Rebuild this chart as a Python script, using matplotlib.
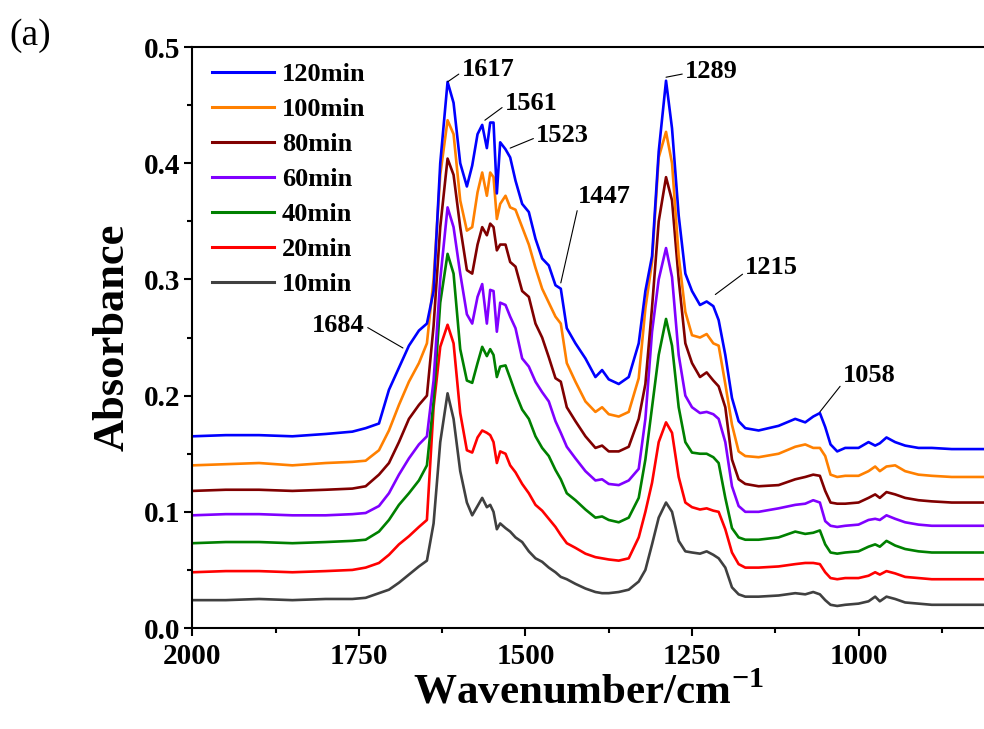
import numpy as np
import matplotlib
matplotlib.use("Agg")
import matplotlib.pyplot as plt
from matplotlib.ticker import MultipleLocator

plt.rcParams['font.family'] = ['Liberation Serif', 'DejaVu Serif']
plt.rcParams['mathtext.fontset'] = 'custom'
plt.rcParams['mathtext.rm'] = 'Liberation Serif'
plt.rcParams['mathtext.bf'] = 'Liberation Serif:bold'

wavenumber = [2000, 1950, 1900, 1850, 1800, 1760, 1740, 1720, 1705, 1690, 1675, 1660, 1648, 1638, 1628,
              1617, 1608, 1598, 1588, 1580, 1572, 1565, 1558, 1553, 1548, 1543, 1538, 1530, 1523, 1515,
              1505, 1495, 1485, 1475, 1465, 1455, 1447, 1438, 1425, 1410, 1395, 1385, 1375, 1360, 1345,
              1330, 1320, 1310, 1300, 1289, 1280, 1270, 1260, 1250, 1238, 1228, 1218, 1210, 1200, 1190,
              1180, 1170, 1150, 1120, 1095, 1080, 1068, 1058, 1050, 1042, 1032, 1020, 1000, 985, 975,
              968, 958, 945, 930, 910, 890, 860, 812]

abs_120min = [.165, .166, .166, .165, .167, .169, .172, .176, .205, .224, .243, .256, .262, .290, .400,
              .470, .452, .400, .380, .398, .425, .433, .413, .435, .435, .374, .418, .412, .405, .385,
              .365, .358, .335, .318, .312, .295, .292, .258, .245, .232, .216, .222, .214, .210, .216,
              .245, .290, .320, .410, .471, .430, .355, .305, .290, .278, .281, .277, .265, .235, .198,
              .178, .172, .170, .174, .180, .177, .182, .185, .173, .158, .152, .155, .155, .160, .157,
              .159, .164, .160, .157, .155, .155, .154, .154]

abs_100min = [.140, .141, .142, .140, .142, .143, .144, .153, .170, .192, .212, .228, .245, .300, .390,
              .437, .425, .368, .342, .345, .375, .392, .372, .392, .388, .352, .365, .372, .362, .360,
              .345, .330, .310, .292, .280, .268, .262, .228, .212, .195, .186, .190, .184, .182, .186,
              .215, .275, .315, .405, .427, .400, .320, .272, .252, .250, .253, .245, .243, .210, .175,
              .152, .148, .147, .150, .156, .158, .155, .155, .148, .132, .130, .131, .131, .135, .139,
              .135, .139, .140, .135, .132, .131, .130, .130]

abs_80min = [.118, .119, .119, .118, .119, .120, .122, .132, .142, .160, .180, .192, .200, .260, .345,
             .404, .390, .345, .308, .305, .330, .345, .338, .348, .345, .325, .330, .330, .315, .311,
             .290, .285, .262, .250, .233, .215, .212, .190, .178, .165, .155, .157, .152, .152, .156,
             .180, .210, .276, .350, .388, .368, .300, .245, .228, .216, .220, .213, .208, .190, .145,
             .128, .124, .122, .123, .128, .130, .132, .131, .118, .108, .107, .107, .108, .112, .115,
             .112, .117, .115, .112, .110, .109, .108, .108]

abs_60min = [.097, .098, .098, .097, .097, .098, .099, .105, .116, .132, .146, .158, .165, .213, .300,
             .362, .345, .305, .270, .262, .285, .296, .262, .291, .290, .255, .280, .278, .268, .258,
             .232, .225, .212, .203, .195, .178, .168, .156, .146, .135, .127, .128, .124, .123, .127,
             .137, .180, .255, .300, .327, .302, .235, .200, .190, .185, .186, .184, .180, .160, .122,
             .105, .100, .100, .103, .106, .107, .110, .108, .092, .088, .087, .088, .089, .093, .094,
             .093, .097, .094, .091, .089, .088, .088, .088]

abs_40min = [.073, .074, .074, .073, .074, .075, .076, .083, .093, .106, .116, .127, .140, .195, .280,
             .322, .305, .240, .213, .211, .228, .242, .234, .240, .235, .216, .225, .226, .215, .202,
             .188, .180, .165, .155, .148, .136, .128, .116, .110, .102, .095, .096, .093, .091, .095,
             .112, .145, .190, .235, .266, .243, .190, .160, .151, .150, .150, .147, .142, .112, .086,
             .078, .076, .076, .078, .083, .081, .082, .084, .072, .065, .064, .065, .066, .070, .072,
             .070, .075, .071, .068, .066, .065, .065, .065]

abs_20min = [.048, .049, .049, .048, .049, .050, .052, .056, .063, .072, .079, .087, .093, .190, .242,
             .261, .245, .185, .153, .151, .164, .170, .168, .166, .160, .142, .152, .150, .140, .134,
             .124, .116, .106, .101, .094, .087, .080, .073, .069, .064, .061, .060, .059, .058, .060,
             .078, .100, .125, .160, .177, .168, .130, .108, .104, .102, .103, .101, .100, .085, .065,
             .055, .052, .052, .053, .055, .056, .056, .055, .048, .043, .042, .043, .043, .045, .048,
             .046, .049, .047, .044, .043, .042, .042, .042]

abs_10min = [.024, .024, .025, .024, .025, .025, .026, .030, .033, .039, .046, .053, .058, .090, .160,
             .202, .180, .135, .108, .097, .105, .112, .104, .106, .100, .085, .090, .086, .083, .078,
             .074, .066, .060, .057, .052, .048, .044, .042, .038, .034, .031, .030, .030, .031, .033,
             .040, .050, .072, .095, .108, .100, .075, .066, .065, .064, .066, .063, .060, .052, .035,
             .029, .027, .027, .028, .030, .029, .031, .029, .024, .020, .019, .020, .021, .023, .027,
             .023, .027, .025, .022, .021, .020, .020, .020]

series_labels = ['120min', '100min', '80min', '60min', '40min', '20min', '10min']
series_values = [abs_120min, abs_100min, abs_80min, abs_60min, abs_40min, abs_20min, abs_10min]
series_colors = ['#0000FF', '#FF8000', '#800000', '#8000FF', '#008000', '#FF0000', '#404040']

# peak labels (wavenumber) and the absorbance of the marked point on the 120min curve
peak_labels = [1684, 1617, 1561, 1523, 1447, 1289, 1215, 1058]
peak_heights = [0.241, 0.470, 0.437, 0.413, 0.297, 0.474, 0.287, 0.186]
peak_offsets = {1684: (-38, 22, 'right', (1, 0.5)),
                1617: (14, 12, 'left', (0, 0.4)),
                1561: (20, 17, 'left', (0, 0.4)),
                1523: (26, 13, 'left', (0, 0.4)),
                1447: (17, 75, 'left', (0, 0.0)),
                1289: (19, 6, 'left', (0, 0.4)),
                1215: (30, 27, 'left', (0, 0.3)),
                1058: (23, 36, 'left', (0, 0.2))}

fig = plt.figure(figsize=(9.84, 7.29), dpi=100)
ax = fig.add_axes([0.1956, 0.1385, 0.8044, 0.797])

wn = np.array(wavenumber)
handles = []
for lab, vals, col in zip(series_labels[::-1], series_values[::-1], series_colors[::-1]):
    h, = ax.plot(wn, vals, color=col, lw=1.9, label=lab)
    handles.append(h)
handles = handles[::-1]

for p, yv in zip(peak_labels, peak_heights):
    dx, dy, ha, rp = peak_offsets[p]
    va = 'bottom' if p == 1447 else 'center'
    ax.annotate(str(p), xy=(p, yv), xytext=(dx, dy), textcoords='offset pixels',
                ha=ha, va=va, fontsize=19, fontweight='bold',
                arrowprops=dict(arrowstyle='-', lw=0.8, color='black', shrinkA=0, shrinkB=0, relpos=rp))

ax.set_xlim(2000, 811.6)
ax.set_ylim(0, 0.5)
ax.xaxis.set_major_locator(MultipleLocator(250))
ax.xaxis.set_minor_locator(MultipleLocator(125))
ax.yaxis.set_major_locator(MultipleLocator(0.1))
ax.yaxis.set_minor_locator(MultipleLocator(0.05))
ax.tick_params(which='major', direction='out', length=6, width=1.5, labelsize=21, pad=3)
ax.tick_params(which='minor', direction='out', length=3.5, width=1.5)
ax.tick_params(axis='x', which='major', pad=5)
for lbl in ax.get_xticklabels() + ax.get_yticklabels():
    lbl.set_fontweight('bold')
ax.yaxis.set_major_formatter(matplotlib.ticker.FormatStrFormatter('%.1f'))
for s in ['left', 'bottom', 'top']:
    ax.spines[s].set_linewidth(1.5)
ax.spines['right'].set_visible(False)

ax.set_ylabel('Absorbance', fontsize=32, fontweight='bold', labelpad=8)
ax.set_xlabel(r'Wavenumber/cm$^{\mathbf{-1}}$', fontsize=31, fontweight='bold', labelpad=2)

leg = ax.legend(handles=handles, loc='upper left', bbox_to_anchor=(0.0246, 0.9735), frameon=False,
                prop={'family': 'Liberation Serif', 'weight': 'bold', 'size': 19},
                handlelength=2.35, handletextpad=0.3, labelspacing=0.44, borderpad=0, borderaxespad=0)
for line in leg.get_lines():
    line.set_linewidth(2.2)

fig.text(0.010, 0.975, '(a)', fontsize=27, va='top', ha='left')

fig.savefig('out.png', dpi=100)
